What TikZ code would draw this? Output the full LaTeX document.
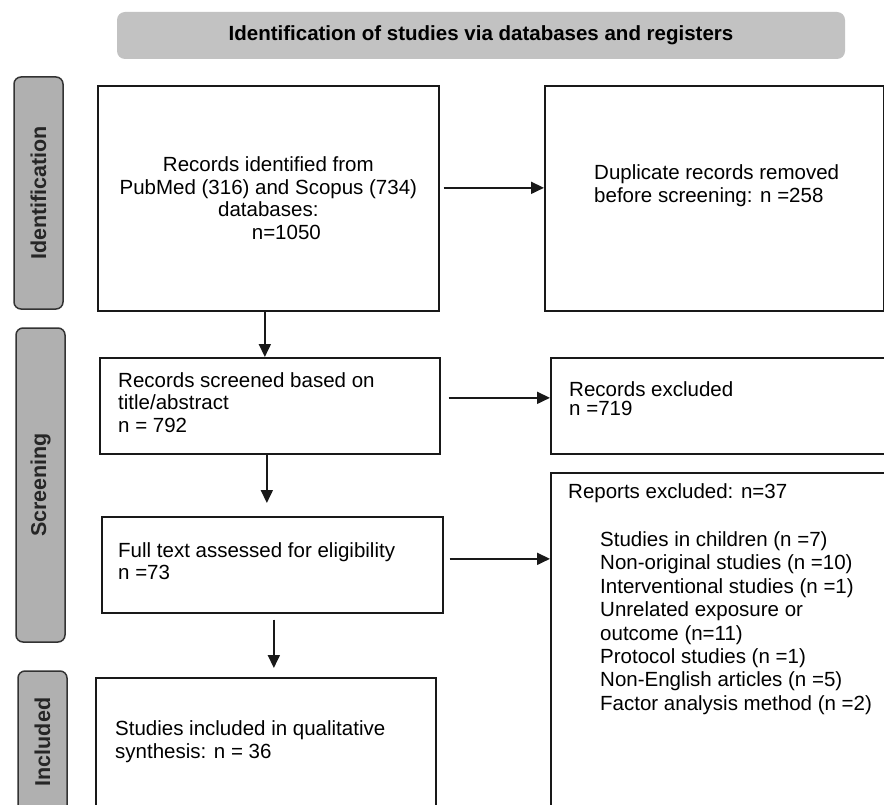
\documentclass[tikz,border=0pt]{standalone}
\usepackage{fontspec}
\setmainfont{Liberation Sans}
\usetikzlibrary{arrows.meta}

\begin{document}
\begin{tikzpicture}[
  x=1pt, y=-1pt,
  font=\fontsize{20.5}{22.5}\selectfont,
  box/.style={draw=black!90, line width=1.7pt, anchor=north west, inner sep=0pt},
  phase/.style={draw=black!80, fill=black!31, line width=1.5pt, rounded corners=7pt,
    rotate=90, minimum height=49pt, inner sep=0pt, text=black!85,
    font=\fontsize{21.5}{22.5}\selectfont\bfseries},
  txt/.style={anchor=west, align=left, inner sep=0pt},
  arr/.style={-{Triangle[length=13pt,width=12pt]}, line width=1.8pt, draw=black!90}]
\useasboundingbox (0,0) rectangle (884,805);
\clip (0,0) rectangle (884,805);

\node[fill=black!24, rounded corners=8pt, minimum width=728pt, minimum height=47pt,
  font=\fontsize{20.5}{22.5}\selectfont\bfseries] (title) at (481,35.5)
  {Identification of studies via databases and registers};

\node[phase, minimum width=232pt] (ident) at (38.5,193) {Identification};
\node[phase, minimum width=314pt] (screen) at (40.5,485) {Screening};
\node[phase, minimum width=142pt] (incl) at (42.5,742) {Included};

\node[box, minimum width=341pt, minimum height=225pt, align=center] (recid) at (97,85)
  {Records identified from\\PubMed (316) and Scopus (734)\\databases:\\\hspace*{36pt}n=1050};
\node[box, minimum width=339pt, minimum height=225pt] (dup) at (544,85) {};
\node[txt] (duptxt) at (594,185.5) {Duplicate records removed\\before screening: n =258};

\node[box, minimum width=340pt, minimum height=96pt] (scr) at (99,357) {};
\node[txt] (scrtxt) at (118,402.5) {Records screened based on\\title/abstract\\n = 792};
\node[box, minimum width=360pt, minimum height=96pt] (recex) at (550,357) {};
\node[txt, font=\fontsize{20.5}{18.5}\selectfont] (recextxt) at (569,398.5) {Records excluded\\n =719};

\node[box, minimum width=341pt, minimum height=96pt] (full) at (101,516) {};
\node[txt] (fulltxt) at (118,561) {Full text assessed for eligibility\\n =73};
\node[box, minimum width=360pt, minimum height=360pt] (rep) at (550,472) {};
\node[txt] (reptxt) at (568,493) {Reports excluded: n=37};
\node[txt, font=\fontsize{20.5}{23.4}\selectfont] (replist) at (600,623)
  {Studies in children (n =7)\\Non-original studies (n =10)\\Interventional studies (n =1)\\
   Unrelated exposure or\\outcome (n=11)\\Protocol studies (n =1)\\
   Non-English articles (n =5)\\Factor analysis method (n =2)};

\node[box, minimum width=340pt, minimum height=160pt] (inc) at (95,677) {};
\node[txt] (inctxt) at (115,741.5) {Studies included in qualitative\\synthesis: n = 36};

\draw[arr, shorten <=4pt] ([yshift=10.5pt]recid.east) -- ([yshift=10.5pt]dup.west);
\draw[arr, shorten <=8pt] ([yshift=8pt]scr.east) -- ([yshift=8pt]recex.west);
\draw[arr, shorten <=6pt] ([yshift=6pt]full.east) -- ([yshift=6pt]full.east -| rep.west);
\draw[arr] ([xshift=-3.5pt]recid.south) -- ([xshift=-3.5pt]recid.south |- scr.north);
\draw[arr, shorten >=13pt] ([xshift=-3pt]scr.south) -- ([xshift=-3pt]scr.south |- full.north);
\draw[arr, shorten <=6pt, shorten >=9pt] ([xshift=1.5pt]full.south) -- ([xshift=1.5pt]full.south |- inc.north);
\end{tikzpicture}
\end{document}
